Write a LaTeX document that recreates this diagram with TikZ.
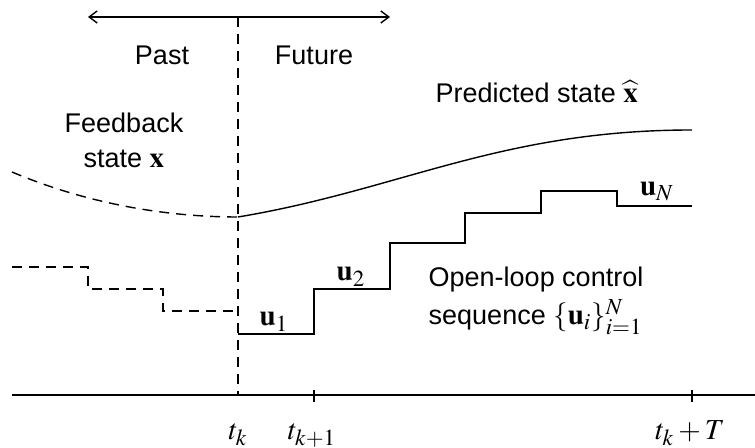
\documentclass[tikz,border=0pt]{standalone}
\usepackage{mathptmx}
\usepackage[no-math]{fontspec}
\setmainfont{Liberation Sans}[Scale = 1.08]
\DeclareMathSizes{12.5}{14.5}{11.5}{9}
\usetikzlibrary{arrows.meta}

\tikzset{
  txt/.style = {font = \fontsize{12.5}{15}\selectfont, inner sep = 0pt},
  past/.style = {dash pattern = on 5pt off 3.5pt},
  axistick/.style = {line width = 0.7pt}
}

\begin{document}
\begin{tikzpicture}[x = 0.5pt, y = -0.5pt, line width = 0.7pt]
    \useasboundingbox (0, 0) rectangle (755, 448);

    % time axis
    \coordinate (start) at (12, 395);
    \coordinate (end) at (755, 395);
    \coordinate (tk) at (238, 395);
    \coordinate (tk1) at (314, 395);
    \coordinate (tkT) at (692, 395);
    \coordinate (top) at (238, 17);
    \coordinate (pastend) at (88, 17);
    \coordinate (futureend) at (390, 17);

    \draw (start) -- (end);
    \draw[axistick] ([yshift = 5 * 0.5pt] tk1) -- ([yshift = -7 * 0.5pt] tk1);
    \draw[axistick] ([yshift = 5 * 0.5pt] tkT) -- ([yshift = -7 * 0.5pt] tkT);
    \draw[past] (top) -- (tk);
    \draw[{Straight Barb[length = 4pt, width = 6pt]}-{Straight Barb[length = 4pt, width = 6pt]}]
      (pastend) -- (futureend);

    \node[txt, anchor = base] (ltk) at (238, 440) {$t_k$};
    \node[txt, anchor = base] (ltk1) at (312, 440) {$t_{k+1}$};
    \node[txt, anchor = base] (ltkT) at (690, 440) {$t_k + T$};
    \node[txt, anchor = base] (past) at (162, 65) {Past};
    \node[txt, anchor = base] (future) at (314, 65) {Future};

    % state
    \coordinate (xstart) at (12, 172);
    \coordinate (xk) at (238, 217);
    \coordinate (xend) at (692, 130);
    \draw[past] (xstart) .. controls (90, 205) and (170, 217) .. (xk);
    \draw (xk) .. controls (400, 190) and (500, 130) .. (xend);

    \node[txt, anchor = base] (fb) at (124, 133) {Feedback};
    \node[txt, anchor = base west] (fbstate) at (83, 168) {state $\mathbf{x}$};
    \node[txt, anchor = base west] (pred) at (435, 103) {Predicted state $\widehat{\mathbf{x}}$};

    % controls
    \draw[past] (12, 267) -| (88, 289) -| (163, 311) -- (238, 311);
    \draw (238, 334) -| (314, 289) -| (390, 243) -| (465, 213)
      -| (541, 191) -| (617, 206) -- (692, 206);

    \node[txt, anchor = base] (u1) at (274, 326) {$\mathbf{u}_1$};
    \node[txt, anchor = base] (u2) at (351, 281) {$\mathbf{u}_2$};
    \node[txt, anchor = base] (uN) at (657, 196) {$\mathbf{u}_N$};
    \node[txt, anchor = base west] (ol) at (428, 287) {Open-loop control};
    \node[txt, anchor = base west] (olseq) at (428, 325) {sequence $\{\mathbf{u}_i\}_{i=1}^N$};
  \end{tikzpicture}
\end{document}
